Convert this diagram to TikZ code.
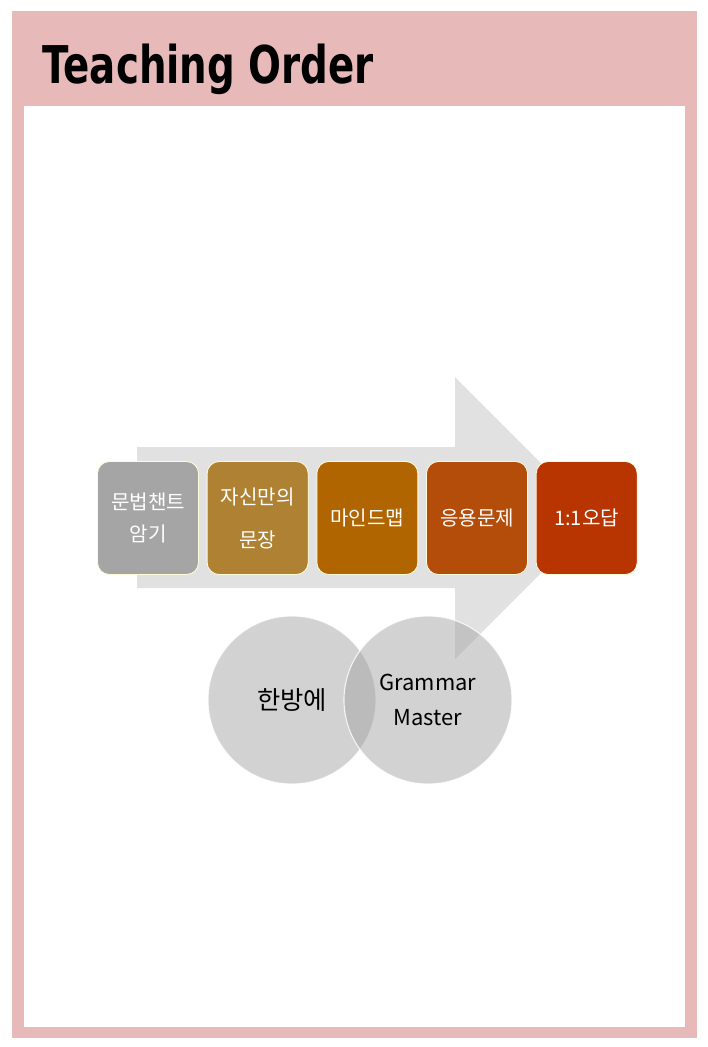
\documentclass[tikz,border=0pt]{standalone}
\usepackage{xcolor}
\usepackage{graphicx}
\usepackage{fontspec}
\setmainfont{Noto Sans CJK KR}
\newfontfamily\titlefont{DejaVu Sans}
\usepackage{tikz}
\usetikzlibrary{positioning}

\definecolor{framepink}{HTML}{E8B9B9}
\definecolor{arrowgray}{HTML}{E1E1E1}
\definecolor{stepone}{HTML}{A5A5A5}
\definecolor{steptwo}{HTML}{AF8233}
\definecolor{stepthree}{HTML}{B06500}
\definecolor{stepfour}{HTML}{B44C0A}
\definecolor{stepfive}{HTML}{B83400}
\definecolor{circlegray}{HTML}{A3A3A3}

\tikzset{
  stepbox/.style={rounded corners=0.3cm, draw=white!85!yellow, line width=0.6pt,
    text=white, minimum width=2.525cm, minimum height=2.825cm, inner sep=0pt,
    align=center, font=\fontsize{14.3}{22.7}\selectfont},
  vennbox/.style={circle, minimum size=4.2cm, inner sep=0pt, fill=circlegray,
    fill opacity=0.48, draw=white, draw opacity=0.8, line width=0.8pt,
    text opacity=1, align=center, font=\fontsize{15.6}{25.5}\selectfont}
}

\begin{document}
\begin{tikzpicture}[x=0.025cm,y=-0.025cm]
\useasboundingbox (0,0) rectangle (708,1047);
\fill[framepink] (12,11) rectangle (697,1038);
\fill[white] (24,106) rectangle (685,1027);
\node[anchor=base west, inner sep=0pt] (title) at (42,83)
  {\titlefont\fontsize{37}{40}\selectfont\bfseries\scalebox{0.745}[1]{Teaching Order}};

\fill[arrowgray] (137,447) -- (455,447) -- (455,377) -- (596,518) -- (455,659)
  -- (455,588) -- (137,588) -- cycle;

\node[stepbox, fill=stepone] (chant) at (148,518) {문법챈트\\암기};
\node[stepbox, fill=steptwo, right=0.195cm of chant, font=\fontsize{14.3}{30.5}\selectfont] (own) {자신만의\\문장};
\node[stepbox, fill=stepthree, right=0.195cm of own] (mind) {마인드맵};
\node[stepbox, fill=stepfour, right=0.195cm of mind] (apply) {응용문제};
\node[stepbox, fill=stepfive, right=0.195cm of apply] (review) {1:1오답};

\node[vennbox, font=\fontsize{18}{25.5}\selectfont] (once) at (292,700) {한방에};
\node[vennbox] (master) at (428,700) {Grammar\\Master};
\end{tikzpicture}
\end{document}
